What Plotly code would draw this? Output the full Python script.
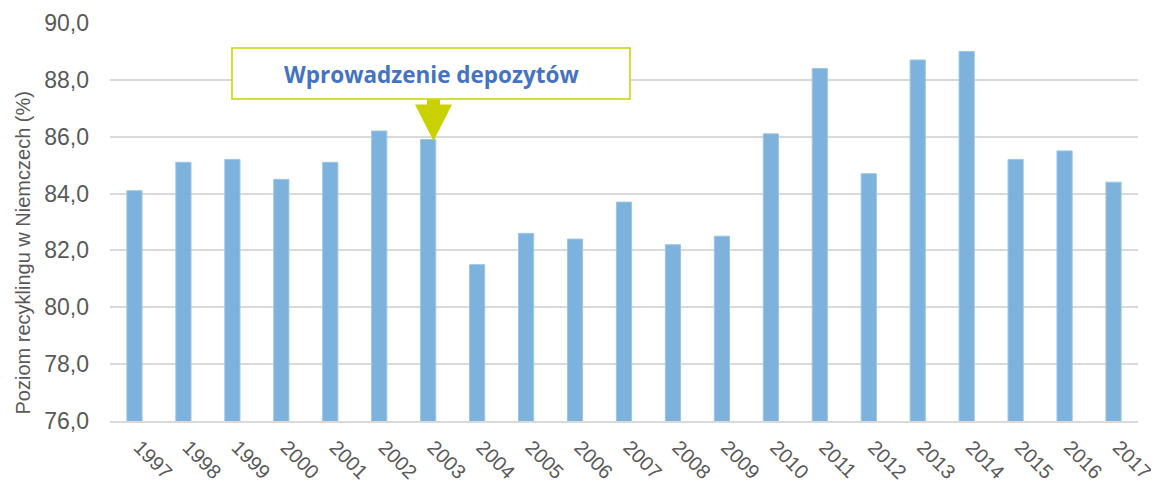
import plotly.graph_objects as go

years = [str(y) for y in range(1997, 2018)]
values = [84.1, 85.1, 85.2, 84.5, 85.1, 86.2, 85.9, 81.5, 82.6, 82.4, 83.7,
          82.2, 82.5, 86.1, 88.4, 84.7, 88.7, 89.0, 85.2, 85.5, 84.4]
y_title = "Poziom recyklingu w Niemczech (%)"
note_text = "Wprowadzenie depozytów"

# page body has an 8px margin
OFF = 8
W, H = 1159 - OFF, 486 - OFF
L, R, T, B = 110, 1138, 23, 421  # plot area in page pixels
ml, mt = L - OFF, T - OFF
mr, mb = 1159 - R, 486 - B
pw, ph = R - L, B - T

def px(x):
    return (x - L) / pw

def py(y):
    return (B - y) / ph

fig = go.Figure(go.Bar(
    x=years, y=values,
    marker=dict(color="#7cb2db", line=dict(color="#9cc5e6", width=1)),
    width=0.31,
))

box_col = "#c9d200"
shapes = [
    dict(type="rect", xref="paper", yref="paper",
         x0=px(232), x1=px(630), y0=py(99), y1=py(48),
         line=dict(color=box_col, width=1.5), fillcolor="white", layer="above"),
    dict(type="rect", xref="paper", yref="paper",
         x0=px(427), x1=px(440), y0=py(105), y1=py(99.5),
         line=dict(width=0), fillcolor=box_col, layer="above"),
    dict(type="path", xref="paper", yref="paper",
         path=f"M {px(415)} {py(104.5)} L {px(452)} {py(104.5)} L {px(433.5)} {py(141)} Z",
         line=dict(width=0), fillcolor=box_col, layer="above"),
]

fig.update_layout(
    width=W, height=H,
    margin=dict(l=ml, r=mr, t=mt, b=mb, autoexpand=False),
    paper_bgcolor="white", plot_bgcolor="white",
    separators=", ",
    showlegend=False,
    font=dict(family="Liberation Sans", color="#595959"),
    shapes=shapes,
    annotations=[
        dict(
            xref="paper", yref="paper", x=px(431), y=py(74),
            text=f"<b>{note_text}</b>", showarrow=False,
            font=dict(family="Open Sans", size=22.5, color="#4472c4"),
            xanchor="center", yanchor="middle",
        ),
        dict(
            xref="paper", yref="paper", x=px(22), y=py(417),
            text=y_title, showarrow=False, textangle=-90,
            font=dict(family="Liberation Sans", size=20, color="#595959"),
            xanchor="center", yanchor="bottom",
        ),
    ],
    xaxis=dict(
        type="category", tickangle=45, automargin=False,
        tickfont=dict(family="Liberation Sans", size=20, color="#595959"),
        showgrid=False, showline=True, linecolor="#d9d9d9", linewidth=1.5,
        ticks="", range=[-0.5, 20.5], ticklabelstandoff=5, ticklabelshift=5,
    ),
    yaxis=dict(
        range=[76, 90], dtick=2, tickformat=".1f", automargin=False,
        tickfont=dict(family="Liberation Sans", size=23, color="#595959"),
        showgrid=True, gridcolor="#d9d9d9", gridwidth=1.5,
        zeroline=False, ticks="", ticklabelstandoff=20,
    ),
)

fig.write_html("out.html")
